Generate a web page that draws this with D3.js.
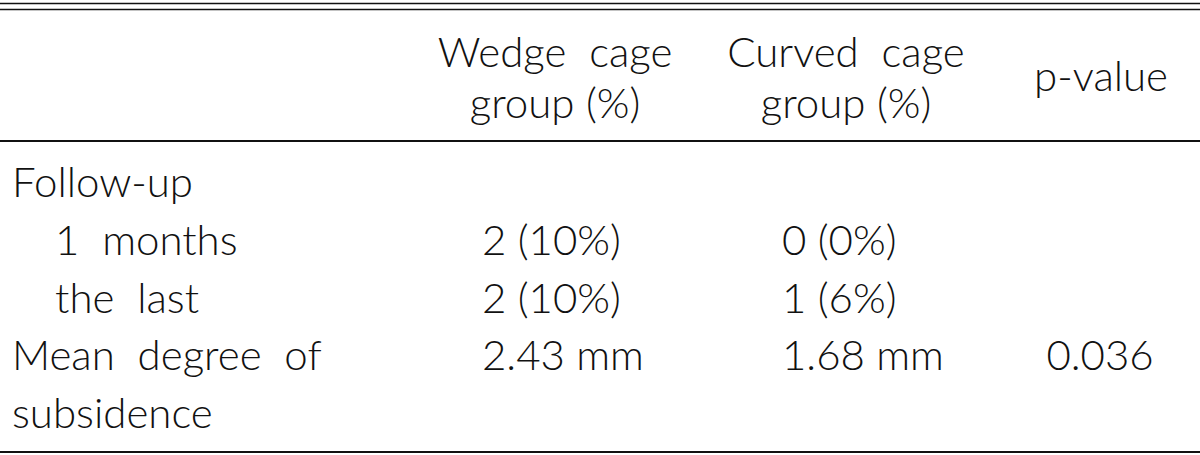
<!DOCTYPE html>
<html>
<head>
<meta charset="utf-8">
<script src="https://cdn.jsdelivr.net/npm/d3@7"></script>
<style>
  html, body { margin: 0; padding: 0; background: #fff; }
  svg text { font-family: Lato, "Open Sans", sans-serif; font-weight: 300; fill: #111; white-space: pre; }
</style>
</head>
<body>
<div id="table"></div>
<script>
// table content
var headerLines = [
    ['Wedge  cage', 'Curved  cage'],
    ['group (%)', 'group (%)']
];
var pHeader = 'p-value';
var rowLabels = ['Follow-up', '1  months', 'the  last', 'Mean  degree  of', 'subsidence'];
var rowIndent = [0, 1, 1, 0, 0];
var wedgeValues = ['', '2 (10%)', '2 (10%)', '2.43 mm', ''];
var curvedValues = ['', '0 (0%)', '1 (6%)', '1.68 mm', ''];
var pValues = ['', '', '', '0.036', ''];

var width = 1200, height = 455;
var fontSize = 42;

var svg = d3.select('#table').append('svg')
    .attr('width', width)
    .attr('height', height);

// row baselines
var yHead = d3.scaleLinear().domain([0, 1]).range([67, 118]);
var yBody = d3.scaleLinear().domain([0, 4]).range([197, 428]);

// rules
var rules = [
    {y: 3.5, w: 1.6},
    {y: 9.5, w: 1.6},
    {y: 141, w: 2},
    {y: 452, w: 2}
];
svg.selectAll('line.rule')
    .data(rules)
    .enter().append('line')
    .attr('class', 'rule')
    .attr('x1', 0).attr('x2', width)
    .attr('y1', function(d) { return d.y; })
    .attr('y2', function(d) { return d.y; })
    .attr('stroke', '#111')
    .attr('stroke-width', function(d) { return d.w; });

// header
var headCenters = [555, 846];
headerLines.forEach(function(line, i) {
    svg.selectAll(null)
        .data(line)
        .enter().append('text')
        .attr('x', function(d, j) { return headCenters[j]; })
        .attr('y', yHead(i))
        .attr('text-anchor', 'middle')
        .style('font-size', fontSize + 'px')
        .text(function(d) { return d; });
});
svg.append('text')
    .attr('x', 1101)
    .attr('y', 91)
    .attr('text-anchor', 'middle')
    .style('font-size', fontSize + 'px')
    .text(pHeader);

// body
function column(values, x, anchor) {
    svg.selectAll(null)
        .data(values)
        .enter().append('text')
        .attr('x', x)
        .attr('y', function(d, i) { return yBody(i); })
        .attr('text-anchor', anchor)
        .style('font-size', fontSize + 'px')
        .text(function(d) { return d; });
}
column(rowLabels, function(d, i) { return rowIndent[i] ? 55 : 12; }, 'start');
column(wedgeValues, 482, 'start');
column(curvedValues, 782, 'start');
column(pValues, 1100, 'middle');
</script>
</body>
</html>
